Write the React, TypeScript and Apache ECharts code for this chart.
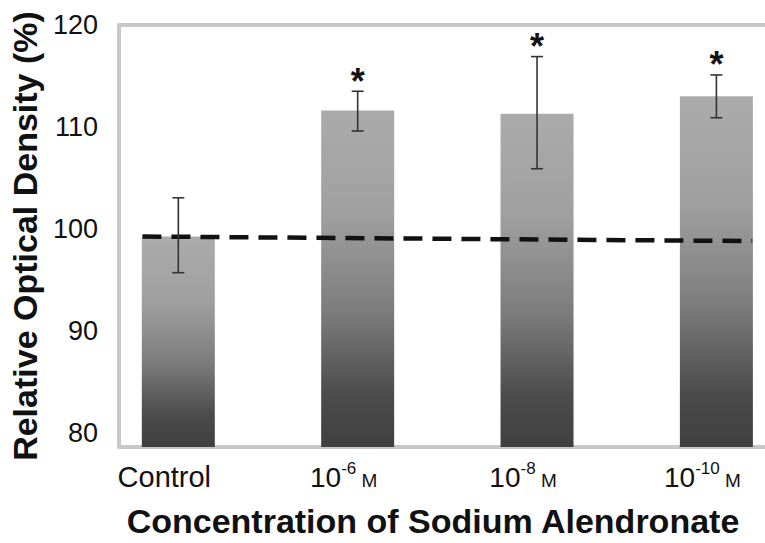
import React, { useEffect, useRef } from "react";
import * as echarts from "echarts";

const categories = ["Control", "10-6 M", "10-8 M", "10-10 M"];
const exponents = ["", "-6", "-8", "-10"];
const means = [99.24, 111.6, 111.3, 113.0];
const errLow = [95.7, 109.6, 105.9, 110.9];
const errHigh = [103.05, 113.5, 116.9, 115.1];
const significant = [0, 1, 1, 1];
const trendX = [-0.2, 3.2];
const trendY = [99.25, 98.8];
const yTicks = [80, 90, 100, 110, 120];
const xTicks = [0, 1, 2, 3];

const FONT = "'Liberation Sans', Arial, Helvetica, sans-serif";
const FRAME = "#c8c8c8";

export default function App() {
  const ref = useRef<HTMLDivElement>(null);

  useEffect(() => {
    if (!ref.current) return;
    const chart = echarts.init(ref.current, undefined, { renderer: "svg" });

    const barData = means.map((v, i) => [i, v]);
    const errData = means.map((_, i) => [i, errLow[i], errHigh[i], significant[i]]);
    const trendData = trendX.map((x, i) => [x, trendY[i]]);

    const option: any = {
      animation: false,
      backgroundColor: "#ffffff",
      textStyle: { fontFamily: FONT },
      grid: { left: 113, right: 0, top: 25, bottom: 83, containLabel: false },
      xAxis: [
        {
          type: "value",
          min: -0.331,
          max: 3.271,
          splitLine: { show: false },
          axisTick: { show: false },
          axisLine: { show: true, onZero: false, lineStyle: { color: FRAME, width: 4 } },
          axisLabel: {
            customValues: xTicks,
            margin: 12,
            padding: [0, 28, 0, 0],
            color: "#111",
            fontFamily: FONT,
            fontSize: 29,
            formatter: (v: number) => {
              const i = Math.round(v);
              if (i === 0) return "{c|" + categories[0] + "}";
              return "{n|10}{s|" + exponents[i] + "}{m| M}";
            },
            rich: {
              c: { fontSize: 29, fontFamily: FONT, color: "#111", lineHeight: 32, verticalAlign: "bottom" },
              n: { fontSize: 28, fontFamily: FONT, color: "#111", lineHeight: 32, verticalAlign: "bottom" },
              s: { fontSize: 17, fontFamily: FONT, color: "#111", lineHeight: 32, verticalAlign: "top", padding: [1, 0, 0, 0] },
              m: { fontSize: 19, fontFamily: FONT, color: "#111", lineHeight: 32, verticalAlign: "bottom", padding: [0, 0, 1, 0] },
            },
          },
          name: "Concentration of Sodium Alendronate",
          nameLocation: "middle",
          nameGap: 57,
          nameTextStyle: { fontSize: 34, fontWeight: "bold", color: "#111", fontFamily: FONT, padding: [0, 18, 0, 0] },
        },
        {
          type: "value",
          position: "top",
          min: -0.331,
          max: 3.271,
          splitLine: { show: false },
          axisTick: { show: false },
          axisLabel: { show: false },
          axisLine: { show: true, onZero: false, lineStyle: { color: FRAME, width: 4 } },
        },
      ],
      yAxis: {
        type: "value",
        min: 78.6,
        max: 120,
        splitLine: { show: false },
        axisTick: { show: false },
        axisLine: { show: true, onZero: false, lineStyle: { color: FRAME, width: 4 } },
        axisLabel: {
          customValues: yTicks,
          margin: 21,
          color: "#111",
          fontSize: 27,
          fontFamily: FONT,
        },
        name: "Relative Optical Density (%)",
        nameLocation: "middle",
        nameGap: 67,
        nameTextStyle: { fontSize: 34, fontWeight: "bold", color: "#111", fontFamily: FONT },
      },
      series: [
        {
          type: "bar",
          xAxisIndex: 0,
          data: barData,
          barWidth: 73,
          itemStyle: {
            color: new echarts.graphic.LinearGradient(0, 0, 0, 1, [
              { offset: 0, color: "#ababab" },
              { offset: 0.3, color: "#a0a0a0" },
              { offset: 0.6, color: "#7c7c7c" },
              { offset: 0.85, color: "#4b4b4b" },
              { offset: 1, color: "#404040" },
            ]),
          },
          z: 2,
        },
        {
          type: "line",
          xAxisIndex: 0,
          data: trendData,
          symbol: "none",
          lineStyle: { color: "#111", width: 4.5, type: [19, 10] },
          z: 3,
        },
        {
          type: "custom",
          xAxisIndex: 0,
          data: errData,
          z: 4,
          renderItem: (params: any, api: any) => {
            const x = api.value(0);
            const lo = api.value(1);
            const hi = api.value(2);
            const sig = api.value(3);
            const top = api.coord([x, hi]);
            const bot = api.coord([x, lo]);
            const cap = 6;
            const st = { stroke: "#333", lineWidth: 1.6 };
            const children: any[] = [
              { type: "line", shape: { x1: top[0], y1: top[1], x2: bot[0], y2: bot[1] }, style: st },
              { type: "line", shape: { x1: top[0] - cap, y1: top[1], x2: top[0] + cap, y2: top[1] }, style: st },
              { type: "line", shape: { x1: bot[0] - cap, y1: bot[1], x2: bot[0] + cap, y2: bot[1] }, style: st },
            ];
            if (sig) {
              children.push({
                type: "text",
                x: top[0],
                y: top[1] - 10,
                style: {
                  text: "*",
                  fontSize: 36,
                  fontWeight: "bold",
                  fontFamily: FONT,
                  fill: "#111",
                  align: "center",
                  verticalAlign: "middle",
                },
              });
            }
            return { type: "group", children };
          },
        },
      ],
    };

    chart.setOption(option);
    return () => chart.dispose();
  }, []);

  return (
    <div
      ref={ref}
      style={{ position: "fixed", left: 0, top: 0, width: 765, height: 543, background: "#fff" }}
    />
  );
}
